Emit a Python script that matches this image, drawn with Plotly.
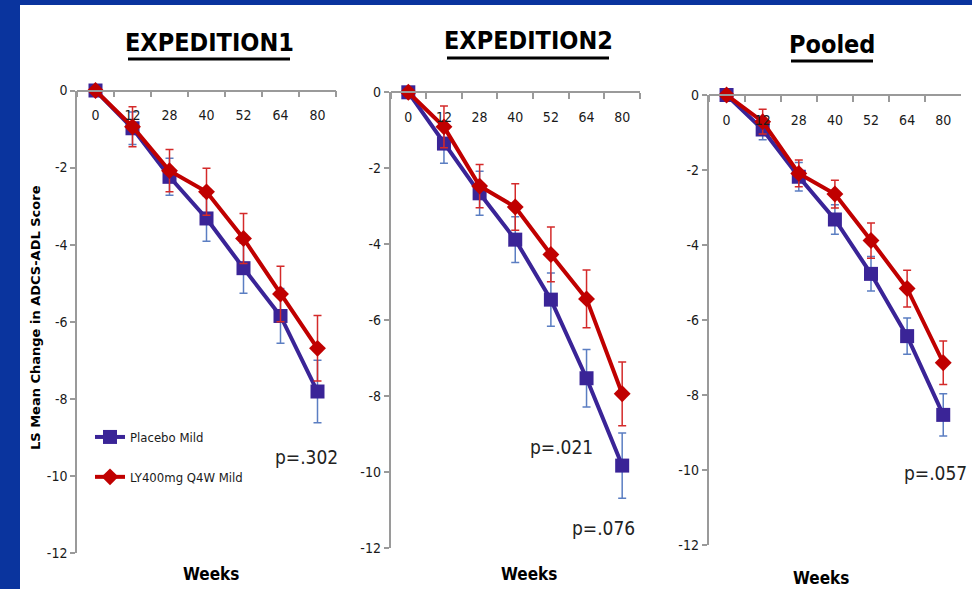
import plotly.graph_objects as go

weeks = ["0", "12", "28", "40", "52", "64", "80"]
panel_titles = ["EXPEDITION1", "EXPEDITION2", "Pooled"]
series_names = ["Placebo Mild", "LY400mg Q4W Mild"]

# Placebo Mild (means and standard errors), per panel
placebo_e1 = [0, -0.98, -2.24, -3.32, -4.61, -5.85, -7.81]
placebo_e1_se = [0, 0.42, 0.48, 0.59, 0.65, 0.71, 0.81]
placebo_e2 = [0, -1.35, -2.66, -3.88, -5.46, -7.53, -9.83]
placebo_e2_se = [0, 0.52, 0.58, 0.60, 0.70, 0.76, 0.86]
placebo_pool = [0, -0.92, -2.18, -3.32, -4.77, -6.43, -8.53]
placebo_pool_se = [0, 0.27, 0.38, 0.39, 0.46, 0.48, 0.56]

# LY400mg Q4W Mild
ly_e1 = [0, -0.94, -2.08, -2.63, -3.84, -5.28, -6.69]
ly_e1_se = [0, 0.52, 0.55, 0.61, 0.65, 0.72, 0.85]
ly_e2 = [0, -0.91, -2.47, -3.02, -4.27, -5.44, -7.94]
ly_e2_se = [0, 0.55, 0.57, 0.61, 0.72, 0.76, 0.84]
ly_pool = [0, -0.71, -2.09, -2.64, -3.88, -5.16, -7.14]
ly_pool_se = [0, 0.33, 0.36, 0.37, 0.47, 0.49, 0.58]

ytick_vals = [0, -2, -4, -6, -8, -10, -12]
ytick_text = ["0", "-2", "-4", "-6", "-8", "-10", "-12"]

p_values = [["p=.302"], ["p=.021", "p=.076"], ["p=.057"]]

BLUE = "#3A2497"
BLUE_ERR = "#5B7EC2"
RED = "#C00000"
RED_ERR = "#D42A2A"
BORDER = "#0A349E"
COND = "DejaVu Sans Condensed, sans-serif"

W, H = 972, 589
def fx(px):
    return px / W
def fy(py):
    return (H - py) / H

# panel geometry (pixels): x-axis left/right, y of 0 and -12
panels = [
    dict(x0=77, x1=336, ytop=90.5, ybot=553),
    dict(x0=390.5, x1=640, ytop=92.3, ybot=548),
    dict(x0=708.5, x1=961.3, ytop=95, ybot=545),
]

data = [
    (placebo_e1, placebo_e1_se, ly_e1, ly_e1_se),
    (placebo_e2, placebo_e2_se, ly_e2, ly_e2_se),
    (placebo_pool, placebo_pool_se, ly_pool, ly_pool_se),
]

fig = go.Figure()
layout = dict(
    template="none",
    width=W, height=H, autosize=False, margin=dict(l=0, r=0, t=0, b=0, pad=0),
    paper_bgcolor="white", plot_bgcolor="white",
    showlegend=True,
)

for i, (pl, pl_se, ly, ly_se) in enumerate(data):
    n = "" if i == 0 else str(i + 1)
    xa, ya = "x" + n, "y" + n
    fig.add_trace(go.Scatter(
        x=weeks, y=pl, xaxis=xa, yaxis=ya, mode="lines+markers",
        name=series_names[0], legendgroup="g1", showlegend=(i == 0),
        line=dict(color=BLUE, width=4),
        marker=dict(symbol="square", size=14, color=BLUE),
        error_y=dict(type="data", array=pl_se, color=BLUE_ERR, thickness=1.5, width=4),
        cliponaxis=False,
    ))
    fig.add_trace(go.Scatter(
        x=weeks, y=ly, xaxis=xa, yaxis=ya, mode="lines+markers",
        name=series_names[1], legendgroup="g2", showlegend=(i == 0),
        line=dict(color=RED, width=4),
        marker=dict(symbol="diamond", size=13, color=RED),
        error_y=dict(type="data", array=ly_se, color=RED_ERR, thickness=1.5, width=4),
        cliponaxis=False,
    ))
    p = panels[i]
    layout["xaxis" + n] = dict(
        type="category", domain=[fx(p["x0"]), fx(p["x1"])], range=[-0.5, 6.5],
        anchor="free", position=fy(p["ytop"]), side="bottom", automargin=False,
        showline=True, linecolor="#9A9A9A", linewidth=1.5,
        ticks="outside", tickson="boundaries", ticklen=6, tickcolor="#9A9A9A", tickwidth=1.5,
        showgrid=False, zeroline=False,
        tickfont=dict(family=COND, size=14, color="#1a1a1a"),
        ticklabelstandoff=12, fixedrange=True,
    )
    layout["yaxis" + n] = dict(
        domain=[fy(p["ybot"]), fy(p["ytop"])], range=[-12, 0], automargin=False,
        anchor=xa, showline=True, linecolor="#9A9A9A", linewidth=1.5,
        ticks="outside", ticklen=5, tickcolor="#9A9A9A", tickwidth=1.5,
        tickvals=ytick_vals, ticktext=ytick_text,
        showgrid=False, zeroline=False,
        tickfont=dict(family=COND, size=14, color="#1a1a1a"),
        ticklabelstandoff=0, fixedrange=True,
    )

layout["legend"] = dict(
    x=fx(90), y=fy(422), xanchor="left", yanchor="top",
    bgcolor="rgba(0,0,0,0)", font=dict(family=COND, size=13, color="#1a1a1a"),
    tracegroupgap=20, traceorder="grouped", itemwidth=30,
)

annotations = []
title_pos = [(209, 42), (528, 41), (832, 44)]
for t, (cx, cy) in zip(panel_titles, title_pos):
    annotations.append(dict(
        text="<b>" + t + "</b>", x=fx(cx), y=fy(cy), xref="paper", yref="paper",
        showarrow=False, font=dict(family=COND, size=25, color="black"),
        xanchor="center", yanchor="middle",
    ))
weeks_pos = [(211, 574), (529, 574), (821, 578)]
for cx, cy in weeks_pos:
    annotations.append(dict(
        text="<b>Weeks</b>", x=fx(cx), y=fy(cy), xref="paper", yref="paper",
        showarrow=False, font=dict(family=COND, size=17, color="black"),
        xanchor="center", yanchor="middle",
    ))
annotations.append(dict(
    text="<b>LS Mean Change in ADCS-ADL Score</b>", x=fx(35), y=fy(318),
    xref="paper", yref="paper", showarrow=False, textangle=-90,
    font=dict(family="DejaVu Sans, sans-serif", size=13, color="black"),
    xanchor="center", yanchor="middle",
))
p_pos = [[(306, 457)], [(561, 447), (603, 528)], [(935, 473)]]
for texts, poss in zip(p_values, p_pos):
    for t, (cx, cy) in zip(texts, poss):
        annotations.append(dict(
            text=t, x=fx(cx), y=fy(cy), xref="paper", yref="paper",
            showarrow=False, font=dict(family=COND, size=19, color="#222222"),
            xanchor="center", yanchor="middle",
        ))
layout["annotations"] = annotations

underlines = [(128, 290, 59), (447, 609, 58), (791, 873, 61)]
shapes = []
for x0, x1, yy in underlines:
    shapes.append(dict(type="line", xref="paper", yref="paper",
                       x0=fx(x0), x1=fx(x1), y0=fy(yy), y1=fy(yy),
                       line=dict(color="black", width=3)))
shapes.append(dict(type="rect", xref="paper", yref="paper", x0=0, x1=fx(20), y0=0, y1=1,
                   fillcolor=BORDER, line=dict(width=0)))
shapes.append(dict(type="rect", xref="paper", yref="paper", x0=0, x1=1, y0=fy(5), y1=1,
                   fillcolor=BORDER, line=dict(width=0)))
layout["shapes"] = shapes

fig.update_layout(**layout)
fig.write_html(
    "out.html",
    config={"responsive": False},
    post_script="document.body.style.margin='0';document.body.style.padding='0';",
)
